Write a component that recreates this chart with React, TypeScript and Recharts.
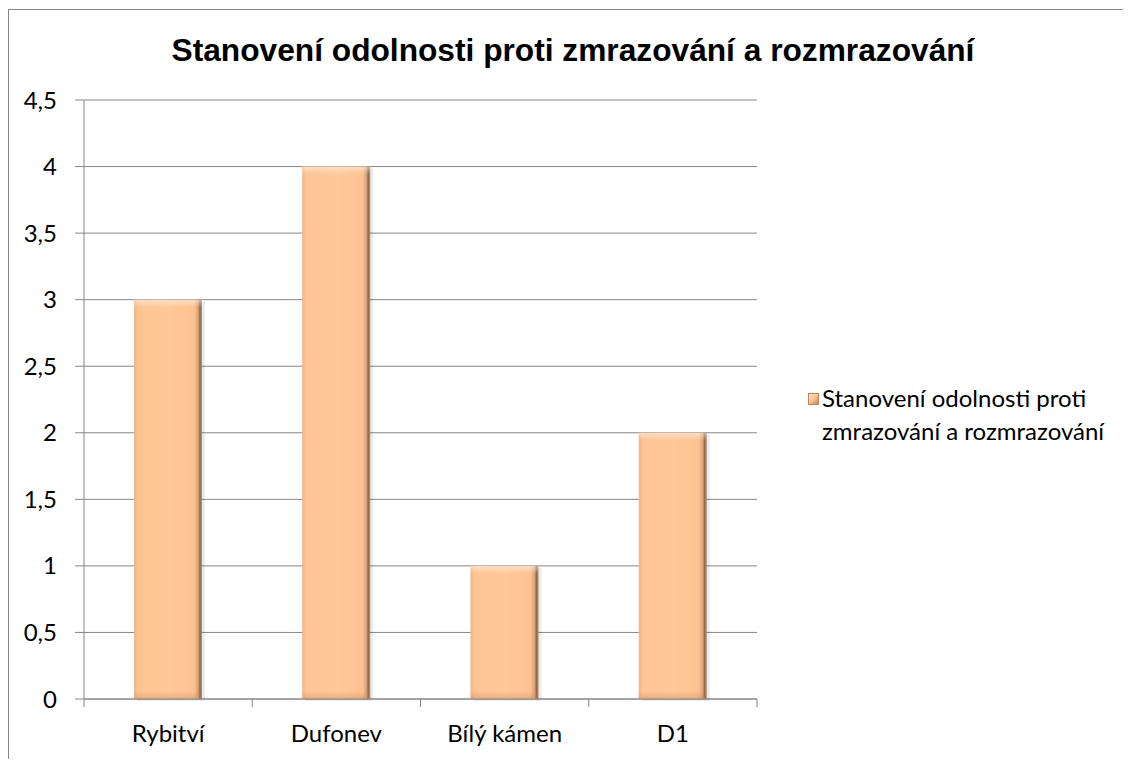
import React from 'react';
import { BarChart, Bar, XAxis, YAxis, CartesianGrid } from 'recharts';

const categories = ['Rybitví', 'Dufonev', 'Bílý kámen', 'D1'];
const values = [3, 4, 1, 2];
const yTicks = [0, 0.5, 1, 1.5, 2, 2.5, 3, 3.5, 4, 4.5];
const chartTitle = 'Stanovení odolnosti proti zmrazování a rozmrazování';
const seriesName = 'Stanovení odolnosti proti zmrazování a rozmrazování';
const legendLines = ['Stanovení odolnosti proti', 'zmrazování a rozmrazování'];

const data = categories.map((c, i) => ({ name: c, value: values[i] }));

const AXIS = '#868686';
const FONT = 'Lato, "Open Sans", sans-serif';
const FS = 24;

const CHART_W = 1125;
const CHART_H = 749;
const MARGIN = { top: 90, right: 377, bottom: 32, left: 15 };
const PLOT_W = CHART_W - MARGIN.left - 60 - MARGIN.right;
const HALF_BAND = PLOT_W / categories.length / 2;

function BeveledBar(props: any) {
  const { x, y, width, height } = props;
  if (!height || height <= 0) return null;
  return (
    <g>
      <rect x={x + 3} y={y + 2} width={width} height={height} fill="#000" opacity={0.08} />
      <rect x={x} y={y} width={width} height={height} fill="url(#barGradH)" />
      <rect x={x} y={y} width={width} height={Math.min(8, height)} fill="url(#barGradTop)" />
      <rect x={x} y={y + height - 8} width={width} height={8} fill="url(#barGradBot)" />
    </g>
  );
}

function XTick(props: any) {
  const { x, y, payload, index } = props;
  const last = index === categories.length - 1;
  return (
    <g>
      <line x1={x - HALF_BAND} x2={x - HALF_BAND} y1={y} y2={y + 8} stroke={AXIS} strokeWidth={1} />
      {last && <line x1={x + HALF_BAND} x2={x + HALF_BAND} y1={y} y2={y + 8} stroke={AXIS} strokeWidth={1} />}
      <text x={x} y={y + 43} textAnchor="middle" fill="#000" fontSize={FS} fontFamily={FONT}>
        {payload.value}
      </text>
    </g>
  );
}

function LegendBox() {
  return (
    <div
      style={{
        position: 'absolute',
        left: 799,
        top: 371,
        fontFamily: FONT,
        fontSize: FS,
        lineHeight: '33px',
        color: '#000',
      }}
    >
      <div
        style={{
          position: 'absolute',
          left: 0,
          top: 12,
          width: 9,
          height: 10,
          background: 'linear-gradient(135deg, #FFE3C8 0%, #FCC190 50%, #C08A5C 100%)',
          border: '1px solid #B58660',
        }}
      />
      <div style={{ marginLeft: 14, whiteSpace: 'nowrap' }}>
        {legendLines.map((l) => (
          <div key={l}>{l}</div>
        ))}
      </div>
    </div>
  );
}

export default function App() {
  return (
    <div
      style={{
        position: 'relative',
        top: 1,
        width: CHART_W,
        height: CHART_H,
        border: `1px solid ${AXIS}`,
        background: '#fff',
      }}
    >
      <div
        style={{
          position: 'absolute',
          left: 2,
          top: 22,
          width: 1124,
          textAlign: 'center',
          fontFamily: '"Liberation Sans", Arial, sans-serif',
          fontWeight: 'bold',
          fontSize: 31.7,
          color: '#000',
          whiteSpace: 'nowrap',
        }}
      >
        {chartTitle}
      </div>
      <BarChart width={CHART_W} height={CHART_H} data={data} margin={MARGIN}>
        <defs>
          <linearGradient id="barGradH" x1="0" y1="0" x2="1" y2="0">
            <stop offset="0%" stopColor="#F2B382" />
            <stop offset="6%" stopColor="#FDC494" />
            <stop offset="50%" stopColor="#FFC898" />
            <stop offset="88%" stopColor="#FDC292" />
            <stop offset="94%" stopColor="#DCA67A" />
            <stop offset="97%" stopColor="#8E6A4E" />
            <stop offset="100%" stopColor="#B89070" />
          </linearGradient>
          <linearGradient id="barGradTop" x1="0" y1="0" x2="0" y2="1">
            <stop offset="0%" stopColor="#FFFFFF" stopOpacity={0.45} />
            <stop offset="100%" stopColor="#FFFFFF" stopOpacity={0} />
          </linearGradient>
          <linearGradient id="barGradBot" x1="0" y1="0" x2="0" y2="1">
            <stop offset="0%" stopColor="#C08050" stopOpacity={0} />
            <stop offset="100%" stopColor="#C08050" stopOpacity={0.35} />
          </linearGradient>
        </defs>
        <CartesianGrid vertical={false} stroke={AXIS} strokeWidth={1} />
        <XAxis
          dataKey="name"
          stroke={AXIS}
          tickLine={false}
          tickSize={0}
          tickMargin={0}
          height={28}
          interval={0}
          tick={<XTick />}
        />
        <YAxis
          width={60}
          domain={[0, 4.5]}
          ticks={yTicks}
          interval={0}
          stroke={AXIS}
          tickSize={9}
          tickMargin={18}
          tick={{ fill: '#000', fontSize: FS, fontFamily: FONT }}
          tickFormatter={(v: number) => String(v).replace('.', ',')}
        />
        <Bar
          dataKey="value"
          name={seriesName}
          barSize={68}
          isAnimationActive={false}
          shape={<BeveledBar />}
        />
      </BarChart>
      <LegendBox />
    </div>
  );
}
